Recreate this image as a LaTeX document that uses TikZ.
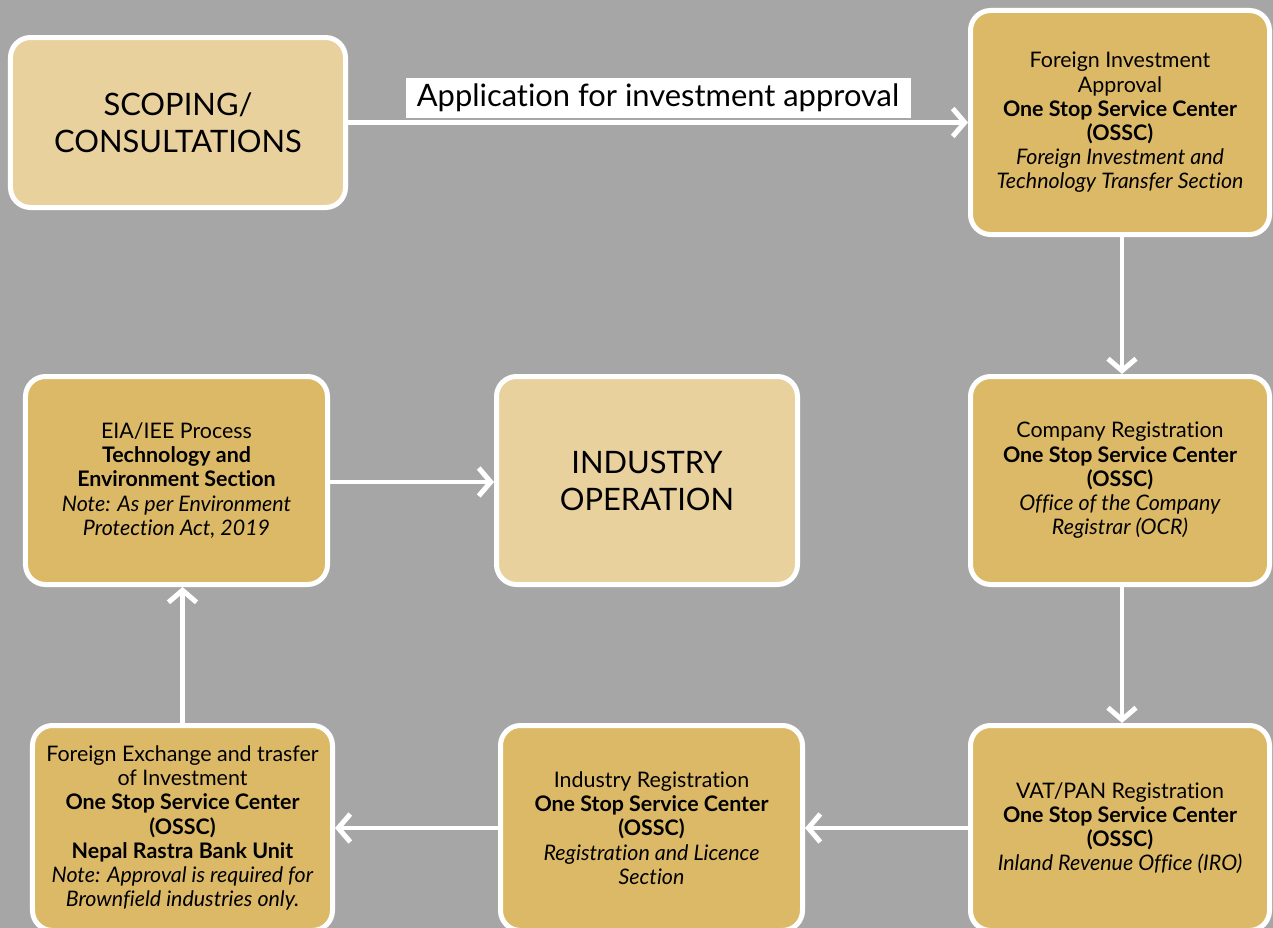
\documentclass[tikz,border=0pt]{standalone}
\usepackage{fontspec}
\setmainfont[RawFeature={-liga,-clig,-dlig}]{Lato}
\usetikzlibrary{arrows.meta}
\definecolor{bg}{HTML}{A6A6A6}
\definecolor{lightgold}{HTML}{E9D19E}
\definecolor{gold}{HTML}{DCB967}

\begin{document}
\begin{tikzpicture}[x=1bp,y=-1bp,
  box/.style={draw=white, line width=5bp, rounded corners=20bp, align=center,
    inner sep=0pt, text=black, font=\fontsize{21.5}{24.3}\selectfont},
  lightbox/.style={box, fill=lightgold, font=\fontsize{31}{37}\selectfont},
  goldbox/.style={box, fill=gold},
  flow/.style={draw=white, line width=4.5bp,
    -{Straight Barb[length=12bp,width=28bp,line width=5bp]}},
  flowlabel/.style={fill=white, inner sep=0pt, minimum width=505bp,
    minimum height=40bp, font=\fontsize{31}{36}\selectfont}
]
% canvas and page size
\fill[bg] (0,0) rectangle (1273,928);
\useasboundingbox (0,0) rectangle (1273,928);
\clip (0,0) rectangle (1273,928);

% top row
\node[lightbox, minimum width=335bp, minimum height=170bp] (scope) at (178,122.5)
  {SCOPING/\\CONSULTATIONS};
\node[goldbox, minimum width=299bp, minimum height=224bp] (fia) at (1120,122.5)
  {Foreign Investment\\Approval\\\textbf{One Stop Service Center}\\\textbf{(OSSC)}\\
   \textit{Foreign Investment and}\\\textit{Technology Transfer Section}};

% middle row
\node[goldbox, minimum width=302bp, minimum height=208bp] (eia) at (176.5,480.5)
  {EIA/IEE Process\\\textbf{Technology and}\\\textbf{Environment Section}\\
   \textit{Note: As per Environment}\\\textit{Protection Act, 2019}};
\node[lightbox, minimum width=301bp, minimum height=208bp] (oper) at (647,480.5)
  {INDUSTRY\\OPERATION};
\node[goldbox, minimum width=299bp, minimum height=208bp] (comp) at (1120,480.5)
  {Company Registration\\\textbf{One Stop Service Center}\\\textbf{(OSSC)}\\
   \textit{Office of the Company}\\\textit{Registrar (OCR)}};

% bottom row
\node[goldbox, minimum width=300bp, minimum height=205bp] (fx) at (182.5,828)
  {Foreign Exchange and trasfer\\of Investment\\\textbf{One Stop Service Center}\\
   \textbf{(OSSC)}\\\textbf{Nepal Rastra Bank Unit}\\
   \textit{Note: Approval is required for}\\\textit{Brownfield industries only.}};
\node[goldbox, minimum width=302bp, minimum height=205bp] (ind) at (651.5,828)
  {Industry Registration\\\textbf{One Stop Service Center}\\\textbf{(OSSC)}\\
   \textit{Registration and Licence}\\\textit{Section}};
\node[goldbox, minimum width=299bp, minimum height=205bp] (vat) at (1120,828)
  {VAT/PAN Registration\\\textbf{One Stop Service Center}\\\textbf{(OSSC)}\\
   \textit{Inland Revenue Office (IRO)}};

% connectors
\draw[flow] (scope.east) -- node[flowlabel, anchor=south, yshift=2.5bp]
  {Application for investment approval} (fia.west |- scope.east);
\draw[flow] ([xshift=2bp]fia.south) -- ([xshift=2bp]comp.north);
\draw[flow] ([xshift=2bp]comp.south) -- ([xshift=2bp]vat.north);
\draw[flow] (vat.west) -- (ind.east);
\draw[flow] (ind.west) -- (fx.west -| fx.east);
\draw[flow] (fx.north) -- (fx.north |- eia.south);
\draw[flow] ([yshift=-1.5bp]eia.east) -- ([yshift=-1.5bp]oper.west);
\end{tikzpicture}
\end{document}
